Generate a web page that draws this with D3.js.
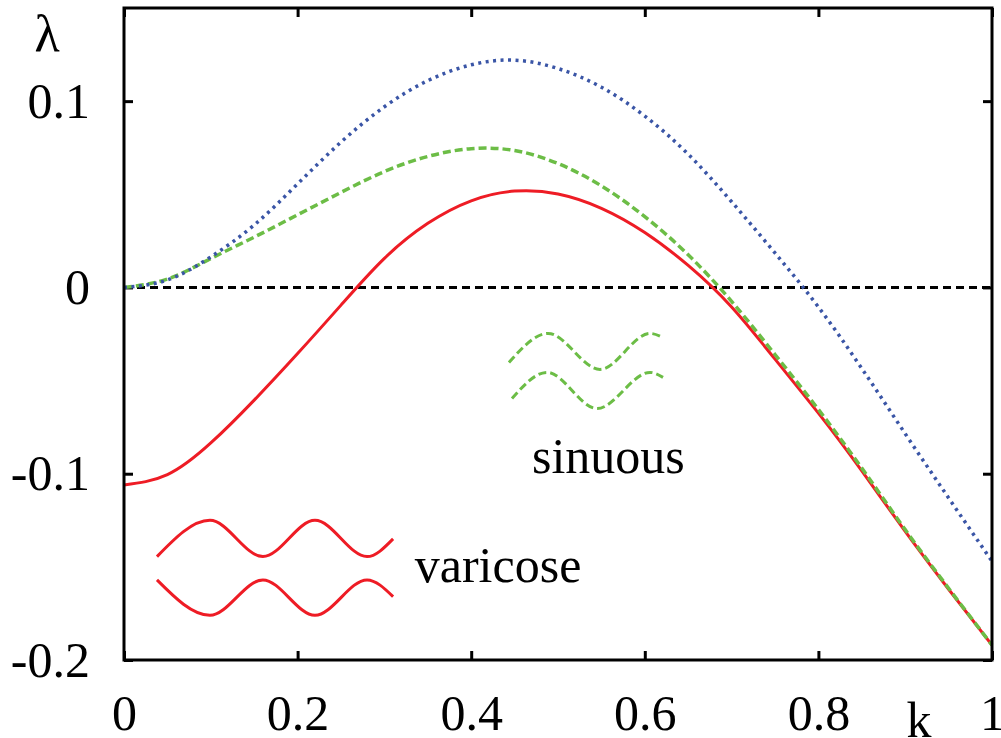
<!DOCTYPE html>
<html lang="en">
<head>
    <meta charset="utf-8">
    <title>Growth rate vs k</title>
    <style>
        body { margin: 0; background: #fff; }
        text { font-family: "Liberation Serif", "DejaVu Serif", serif; }
    </style>
</head>
<body>
    <svg width="1001" height="738"></svg>
    <script src="https://cdn.jsdelivr.net/npm/d3@7"></script>
    <script>
        // values
        const kValues = [0, 0.05, 0.1, 0.15, 0.2, 0.25, 0.3, 0.35, 0.4, 0.45, 0.5,
                         0.55, 0.6, 0.65, 0.7, 0.75, 0.8, 0.85, 0.9, 0.95, 1.0];
        const varicose = [-0.106, -0.1005, -0.0835, -0.0605, -0.0355, -0.0095, 0.0156, 0.0344, 0.0465, 0.0517, 0.0502,
                          0.0425, 0.0295, 0.0118, -0.0105, -0.0385, -0.0675, -0.0985, -0.131, -0.162, -0.192];
        const sinuous = [0, 0.0045, 0.0155, 0.027, 0.039, 0.051, 0.0622, 0.0703, 0.0745, 0.0735, 0.0665,
                         0.0545, 0.038, 0.0175, -0.0075, -0.036, -0.0655, -0.097, -0.130, -0.1615, -0.192];
        const upper = [0, 0.004, 0.0164, 0.0335, 0.0556, 0.078, 0.097, 0.111, 0.1195, 0.122, 0.1175,
                       0.1075, 0.092, 0.0715, 0.046, 0.0185, -0.0105, -0.0435, -0.0785, -0.113, -0.147];

        const xTicks = [0, 0.2, 0.4, 0.6, 0.8, 1];
        const yTicks = [-0.2, -0.1, 0, 0.1];

        // little wave sketches (extrema, in data units)
        const varicoseTopK = [0.038, 0.099, 0.160, 0.220, 0.280, 0.310];
        const varicoseTopL = [-0.1445, -0.125, -0.1445, -0.125, -0.1445, -0.135];
        const varicoseBotK = [0.038, 0.099, 0.160, 0.220, 0.280, 0.310];
        const varicoseBotL = [-0.157, -0.176, -0.157, -0.176, -0.157, -0.166];
        const sinuousTopK = [0.4435, 0.4885, 0.5484, 0.606, 0.621];
        const sinuousTopL = [-0.0403, -0.0247, -0.044, -0.0247, -0.0269];
        const sinuousBotK = [0.447, 0.4873, 0.545, 0.606, 0.621];
        const sinuousBotL = [-0.0596, -0.0456, -0.065, -0.0456, -0.0483];

        const svg = d3.select("svg");
        const W = +svg.attr("width"), H = +svg.attr("height");
        const margin = {top: 8, right: 9, bottom: 78, left: 124};
        const w = W - margin.left - margin.right;
        const h = H - margin.top - margin.bottom;

        const x = d3.scaleLinear().domain([0, 1]).range([0, w]);
        const y = d3.scaleLinear().domain([-0.2, 0.15]).range([h, 0]);

        const g = svg.append("g").attr("transform", `translate(${margin.left},${margin.top})`);

        const fmt = d => String(d);
        const tick = 9;

        function style(sel) {
            sel.select(".domain").remove();
            sel.selectAll(".tick line").attr("stroke", "#000").attr("stroke-width", 3);
            sel.selectAll(".tick text").attr("fill", "#000").style("font-size", "50px")
                .style("font-family", '"Liberation Serif", serif');
        }

        g.append("g").attr("transform", `translate(0,${h})`)
            .call(d3.axisBottom(x).tickValues(xTicks).tickFormat(fmt).tickSize(-tick).tickPadding(34))
            .call(style);
        g.append("g")
            .call(d3.axisTop(x).tickValues(xTicks).tickFormat("").tickSize(-tick))
            .call(style);
        g.append("g")
            .call(d3.axisLeft(y).tickValues(yTicks).tickFormat(fmt).tickSize(-tick).tickPadding(34))
            .call(style);
        g.append("g").attr("transform", `translate(${w},0)`)
            .call(d3.axisRight(y).tickValues(yTicks).tickFormat("").tickSize(-tick))
            .call(style);

        // zero line
        g.append("line")
            .attr("x1", x(0)).attr("x2", x(1))
            .attr("y1", y(0)).attr("y2", y(0))
            .attr("stroke", "#000").attr("stroke-width", 3)
            .attr("stroke-dasharray", "8,5");

        const line = d3.line()
            .x(d => x(d[0])).y(d => y(d[1]))
            .curve(d3.curveNatural);

        const series = [
            {vals: varicose, color: "#ee1c25", width: 3, dash: null},
            {vals: sinuous, color: "#6cbd46", width: 3.5, dash: "8,4"},
            {vals: upper, color: "#3a55a6", width: 3.5, dash: "3,4.5"}
        ];
        // red first so the green dashes show on top where they overlap
        series.forEach(s => {
            g.append("path")
                .datum(kValues.map((k, i) => [k, s.vals[i]]))
                .attr("d", line)
                .attr("fill", "none")
                .attr("stroke", s.color)
                .attr("stroke-width", s.width)
                .attr("stroke-dasharray", s.dash);
        });

        // wave sketches
        const waveLine = d3.line()
            .x(d => x(d[0])).y(d => y(d[1]))
            .curve(d3.curveMonotoneX);
        const waves = [
            {k: varicoseTopK, l: varicoseTopL, color: "#ee1c25", dash: null},
            {k: varicoseBotK, l: varicoseBotL, color: "#ee1c25", dash: null},
            {k: sinuousTopK, l: sinuousTopL, color: "#6cbd46", dash: "8,4"},
            {k: sinuousBotK, l: sinuousBotL, color: "#6cbd46", dash: "8,4"}
        ];
        waves.forEach(wv => {
            g.append("path")
                .datum(wv.k.map((k, i) => [k, wv.l[i]]))
                .attr("d", waveLine)
                .attr("fill", "none")
                .attr("stroke", wv.color)
                .attr("stroke-width", 3)
                .attr("stroke-dasharray", wv.dash);
        });

        g.append("text").attr("x", x(0.335)).attr("y", y(-0.158))
            .style("font-size", "50px").text("varicose");
        g.append("text").attr("x", x(0.470)).attr("y", y(-0.0994))
            .style("font-size", "50px").text("sinuous");

        // frame
        g.append("rect")
            .attr("width", w).attr("height", h)
            .attr("fill", "none").attr("stroke", "#000").attr("stroke-width", 3);

        // axis names
        svg.append("text").attr("x", 47).attr("y", 51)
            .attr("text-anchor", "middle").style("font-size", "52px").text("λ");
        svg.append("text").attr("x", 919).attr("y", 737)
            .attr("text-anchor", "middle").style("font-size", "50px").text("k");
    </script>
</body>
</html>
